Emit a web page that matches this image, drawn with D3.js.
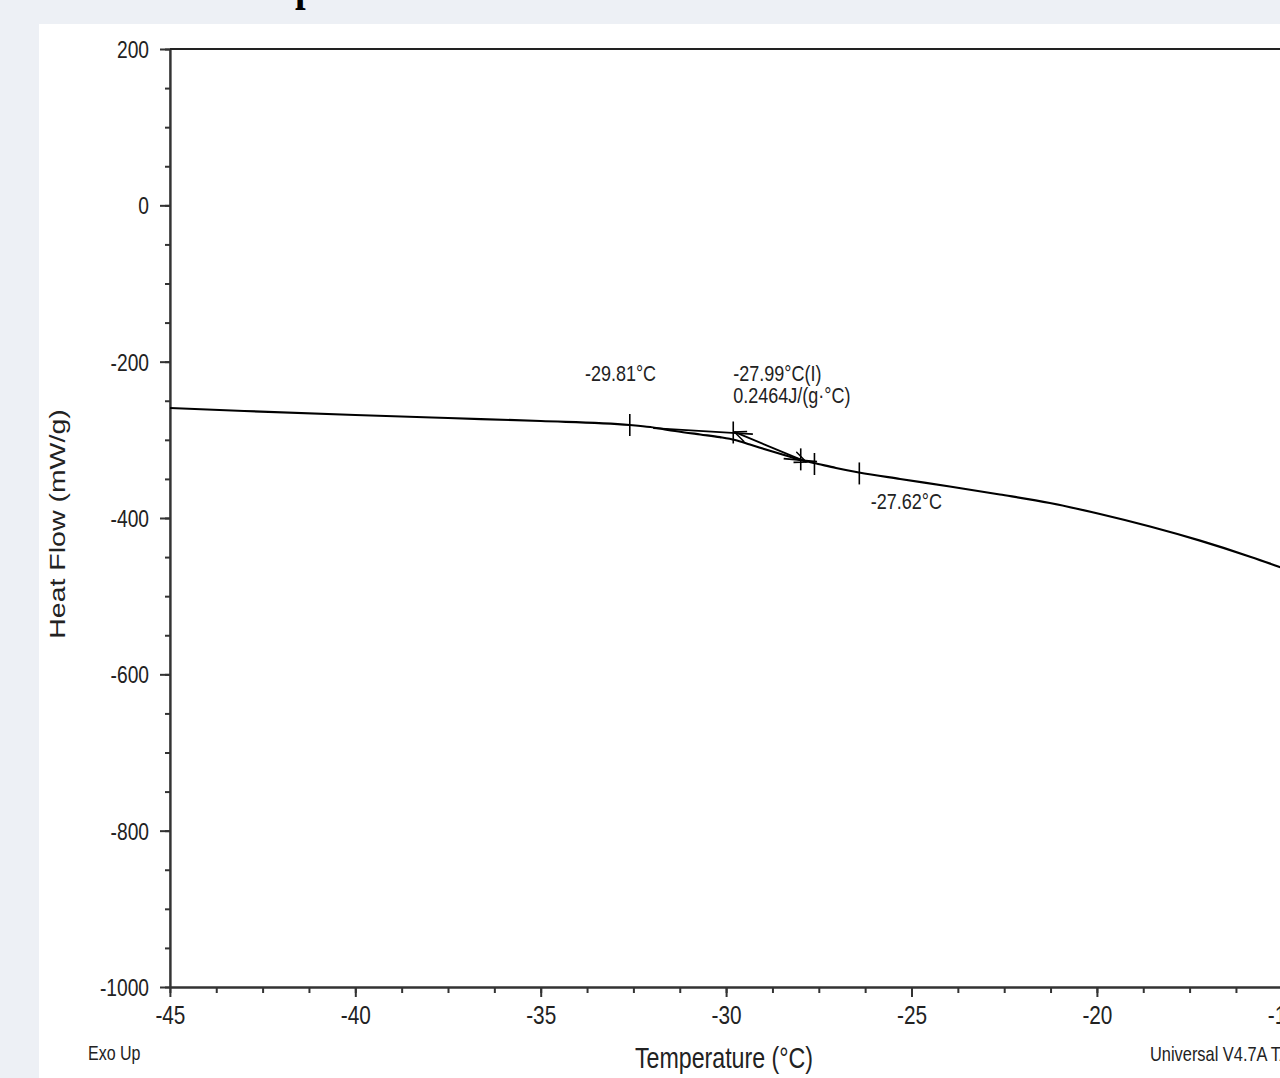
<!DOCTYPE html>
<html lang="en"><head><meta charset="utf-8">
  <title>DSC Heat Flow</title>
  <script src="https://cdn.jsdelivr.net/npm/d3@7"></script>
  <style>
   html, body { margin: 0; padding: 0; background: #edf0f5; overflow: hidden; }
   svg { display: block; }
   text { font-family: "Liberation Sans", Arial, sans-serif; fill: #222; }
   .ln { vector-effect: non-scaling-stroke; }
  </style>
</head>
<body>
  <script>
   // the source picture is squeezed sideways, so we draw in a wider
   // coordinate box and let the viewBox squeeze it back
   var VX = 0.8;
   var width = 1280, height = 1078;
   function sx(v) { return v / VX; }

   // data
   var tempC = [-45, -43, -40, -37.5, -35, -32.6, -32.05, -31.38, -30.7, -30.17, -29.76, -29.36, -28.82,
                -28.28, -27.88, -27.52, -27.04, -26.42, -25.31, -23.97, -22.62, -21.27, -19.92, -18.57,
                -17.22, -15.87, -14.5];
   var heatFlow = [-259.3, -263.1, -268.2, -272.1, -275.9, -281.0, -283.6, -288.7, -293.2, -296.6, -300.2, -306.0, -314.0,
                   -321.7, -327.1, -330.9, -336.0, -341.8, -350.1, -359.7, -369.9, -380.8, -394.9, -410.9,
                   -429.0, -449.5, -472.5];

   var upperTangentT = [-31.97, -29.28];
   var upperTangentHF = [-284.9, -292.6];
   var lowerTangentT = [-28.45, -27.55];
   var lowerTangentHF = [-324.0, -328.0];
   var halfHeightT = [-29.78, -27.84];
   var halfHeightHF = [-289.9, -328.3];

   var markerT = [-32.6, -29.81, -27.99, -27.62, -26.41];
   var markerHF = [-281.0, -290.6, -325.0, -330.9, -343.0];

   var xMajor = [-45, -40, -35, -30, -25, -20, -15, -10];
   var yMajor = [200, 0, -200, -400, -600, -800, -1000];

   var notes = [
     {t: -33.81, hf: -225, lines: ["-29.81°C"]},
     {t: -29.81, hf: -225, lines: ["-27.99°C(I)", "0.2464J/(g·°C)"]},
     {t: -26.1, hf: -389, lines: ["-27.62°C"]}
   ];

   var x = d3.scaleLinear().domain([-45, -10]).range([sx(170), sx(170 + 35 * 37.08)]);
   var y = d3.scaleLinear().domain([-1000, 200]).range([987, 49]);

   var svg = d3.select("body").append("svg")
               .attr("width", width)
               .attr("height", height)
               .attr("viewBox", "0 0 " + sx(width) + " " + height)
               .attr("preserveAspectRatio", "none");

   // white panel
   svg.append("rect")
      .attr("x", sx(39)).attr("y", 24)
      .attr("width", sx(width)).attr("height", height)
      .attr("fill", "white");

   // bottom of a cut-off heading above the panel
   svg.append("text")
      .attr("x", sx(295)).attr("y", -0.5)
      .attr("font-size", 48)
      .attr("font-weight", "bold")
      .style("font-family", "'Liberation Serif', serif")
      .style("fill", "black")
      .text("p");

   // minor ticks first
   var xMinorAxis = d3.axisBottom(x).tickValues(d3.range(-45, -10, 1.25)).tickSize(6).tickSizeOuter(0).tickFormat("");
   var yMinorAxis = d3.axisLeft(y).tickValues(d3.range(-1000, 201, 50)).tickSize(sx(5)).tickSizeOuter(0).tickFormat("");

   svg.append("g").attr("transform", "translate(0," + y(-1000) + ")").call(xMinorAxis);
   svg.append("g").attr("transform", "translate(" + x(-45) + ",0)").call(yMinorAxis);

   var xAxis = d3.axisBottom(x).tickValues(xMajor).tickSize(10).tickSizeOuter(0).tickPadding(9)
                 .tickFormat(function(d) { return String(d); });
   var yAxis = d3.axisLeft(y).tickValues(yMajor).tickSize(sx(10)).tickSizeOuter(0).tickPadding(sx(11))
                 .tickFormat(function(d) { return String(d); });

   var gx = svg.append("g").attr("transform", "translate(0," + y(-1000) + ")").call(xAxis);
   var gy = svg.append("g").attr("transform", "translate(" + x(-45) + ",0)").call(yAxis);

   gx.selectAll("text").attr("font-size", 26).attr("font-family", null);
   gy.selectAll("text").attr("font-size", 24).attr("font-family", null).attr("dy", "0.36em");

   svg.selectAll(".tick line, .domain")
      .attr("class", function() { return d3.select(this).attr("class") + " ln"; })
      .attr("stroke", "#333")
      .attr("stroke-width", 2);

   // top frame line
   svg.append("line")
      .attr("class", "ln")
      .attr("x1", x(-45)).attr("x2", sx(width) + 10)
      .attr("y1", y(200)).attr("y2", y(200))
      .attr("stroke", "#222").attr("stroke-width", 2.2);

   // axis titles
   svg.append("text")
      .attr("text-anchor", "middle")
      .attr("x", sx(724)).attr("y", 1068)
      .attr("font-size", 29)
      .text("Temperature (°C)");

   svg.append("text")
      .attr("text-anchor", "middle")
      .attr("transform", "translate(" + sx(65) + ",524) rotate(-90)")
      .attr("font-size", 28.5)
      .text("Heat Flow (mW/g)");

   svg.append("text").attr("x", sx(88)).attr("y", 1060).attr("font-size", 20).text("Exo Up");
   svg.append("text").attr("x", sx(1150)).attr("y", 1061).attr("font-size", 20.5).text("Universal V4.7A TA Instruments");

   // curve
   var line = d3.line()
                .x(function(d) { return x(d[0]); })
                .y(function(d) { return y(d[1]); })
                .curve(d3.curveMonotoneX);

   svg.append("path")
      .datum(d3.zip(tempC, heatFlow))
      .attr("class", "ln")
      .attr("d", line)
      .attr("fill", "none")
      .attr("stroke", "black")
      .attr("stroke-width", 2.2);

   // tangent construction lines
   [[upperTangentT, upperTangentHF], [lowerTangentT, lowerTangentHF]].forEach(function(p) {
     svg.append("path")
        .datum(d3.zip(p[0], p[1]))
        .attr("class", "ln")
        .attr("d", d3.line().x(function(d) { return x(d[0]); }).y(function(d) { return y(d[1]); }))
        .attr("fill", "none")
        .attr("stroke", "black")
        .attr("stroke-width", 1.8);
   });

   // half-height line with open arrow heads at both ends
   var defs = svg.append("defs");
   defs.append("marker")
       .attr("id", "arr")
       .attr("markerUnits", "userSpaceOnUse")
       .attr("viewBox", "-16 -8 18 16")
       .attr("refX", 0).attr("refY", 0)
       .attr("markerWidth", 18).attr("markerHeight", 16)
       .attr("orient", "auto-start-reverse")
       .append("path")
       .attr("d", "M-15,-5.5L0,0L-15,5.5")
       .attr("fill", "none")
       .attr("stroke", "black")
       .attr("stroke-width", 1.6);

   svg.append("line")
      .attr("class", "ln")
      .attr("x1", x(halfHeightT[0])).attr("y1", y(halfHeightHF[0]))
      .attr("x2", x(halfHeightT[1])).attr("y2", y(halfHeightHF[1]))
      .attr("stroke", "black").attr("stroke-width", 1.8)
      .attr("marker-start", "url(#arr)")
      .attr("marker-end", "url(#arr)");

   // analysis markers
   svg.append("g").selectAll("line")
      .data(d3.zip(markerT, markerHF))
      .enter().append("line")
      .attr("class", "ln")
      .attr("x1", function(d) { return x(d[0]); })
      .attr("x2", function(d) { return x(d[0]); })
      .attr("y1", function(d) { return y(d[1]) - 11; })
      .attr("y2", function(d) { return y(d[1]) + 11; })
      .attr("stroke", "black").attr("stroke-width", 1.6);

   // annotation text
   notes.forEach(function(n) {
     var t = svg.append("text")
                .attr("font-size", 22.5)
                .attr("x", x(n.t)).attr("y", y(n.hf));
     n.lines.forEach(function(s, i) {
       t.append("tspan").attr("x", x(n.t)).attr("dy", i === 0 ? 0 : 22).text(s);
     });
   });
  </script>
</body></html>
